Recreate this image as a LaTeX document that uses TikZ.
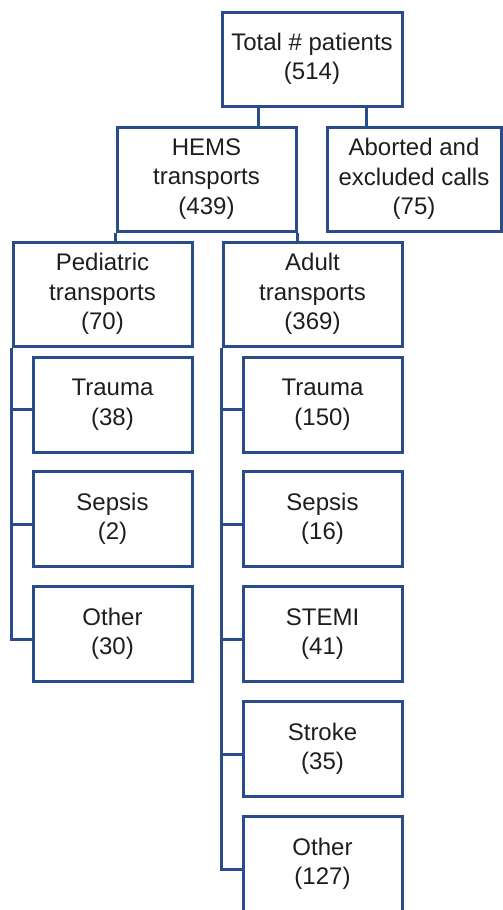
\documentclass[tikz,border=0pt]{standalone}
\usepackage{fontspec}
\setmainfont{Liberation Sans}
\definecolor{boxblue}{RGB}{43,76,140}
\definecolor{txt}{RGB}{30,30,30}
\begin{document}
\begin{tikzpicture}[x=1pt,y=-1pt,
  box/.style={draw=boxblue, line width=3pt, fill=white, inner sep=0pt, align=center,
    text=txt, font=\fontsize{24}{29.5}\selectfont},
  big/.style={box, minimum width=179pt, minimum height=104pt},
  small/.style={box, minimum width=159pt, minimum height=95pt},
  link/.style={draw=boxblue, line width=3pt}]
\useasboundingbox (0,0) rectangle (503,910);
\node[box, minimum width=180pt, minimum height=94pt] (total) at (312,59) {Total \# patients\\(514)};
\node[big] (hems) at (206.5,179) {HEMS\\transports\\(439)};
\node[box, minimum width=174pt, minimum height=104pt] (abort) at (414,179) {Aborted and\\excluded calls\\(75)};
\node[big] (ped) at (102.5,294) {Pediatric\\transports\\(70)};
\node[big] (adult) at (312.5,294) {Adult\\transports\\(369)};
\node[small] (ptr) at (112.5,404.5) {Trauma\\(38)};
\node[small] (pse) at (112.5,519) {Sepsis\\(2)};
\node[small] (pot) at (112.5,634) {Other\\(30)};
\node[small] (atr) at (322.5,404.5) {Trauma\\(150)};
\node[small] (ase) at (322.5,519) {Sepsis\\(16)};
\node[small] (ast) at (322.5,634) {STEMI\\(41)};
\node[small] (asr) at (322.5,749) {Stroke\\(35)};
\node[small] (aot) at (322.5,864) {Other\\(127)};
\draw[link] ([xshift=-54pt]total.south) -- ([xshift=-54pt]total.south |- hems.north);
\draw[link] ([xshift=54pt]total.south) -- ([xshift=54pt]total.south |- abort.north);
\draw[link] (hems.south west) -- (hems.south west |- ped.north);
\draw[link] (hems.south east) -- (hems.south east |- adult.north);
\draw[link] (ped.south west) |- ([yshift=-5pt]pot.west);
\draw[link] ([yshift=-5pt]ptr.west) -- ([yshift=-5pt]ptr.west -| ped.south west);
\draw[link] ([yshift=-5pt]pse.west) -- ([yshift=-5pt]pse.west -| ped.south west);
\draw[link] (adult.south west) |- ([yshift=-5pt]aot.west);
\draw[link] ([yshift=-5pt]atr.west) -- ([yshift=-5pt]atr.west -| adult.south west);
\draw[link] ([yshift=-5pt]ase.west) -- ([yshift=-5pt]ase.west -| adult.south west);
\draw[link] ([yshift=-5pt]ast.west) -- ([yshift=-5pt]ast.west -| adult.south west);
\draw[link] ([yshift=-5pt]asr.west) -- ([yshift=-5pt]asr.west -| adult.south west);
\end{tikzpicture}
\end{document}
